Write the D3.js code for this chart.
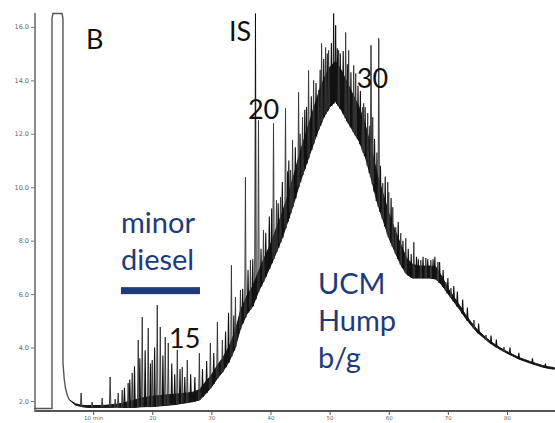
<!DOCTYPE html>
<html>
<head>
<meta charset="utf-8">
<script src="https://cdn.jsdelivr.net/npm/d3@7"></script>
<style>
  html, body { margin: 0; padding: 0; background: #fff; }
  svg { display: block; }
</style>
</head>
<body>
<svg id="chart" width="555" height="423"></svg>
<script>
// ---------------- DATA ----------------
const xTickValues = [10, 20, 30, 40, 50, 60, 70, 80];
const xTickLabels = ["10 min", "20", "30", "40", "50", "60", "70", "80"];
const yTickValues = [2, 4, 6, 8, 10, 12, 14, 16];
const yTickLabels = ["2.0", "4.0", "6.0", "8.0", "10.0", "12.0", "14.0", "16.0"];

// solvent peak (off-scale, clipped) and its tail
const solventTime   = [0, 3.04, 3.04, 3.2, 4.75, 4.9, 4.9, 5.1, 5.35, 5.7, 6.0];
const solventSignal = [1.72, 1.72, 16.3, 16.5, 16.5, 16.3, 3.42, 2.85, 2.45, 2.18, 2.04];

// trace: lower and upper edge of the dense signal band (UCM hump)
const traceTime = [6, 7, 8, 9, 10, 11, 12, 13, 14, 15, 16, 17, 18, 19, 20, 21, 22, 23, 24, 25,
  26, 27, 28, 29, 30, 31, 32, 33, 34, 35, 36, 37, 38, 39, 40, 41, 42, 43, 44, 45,
  46, 47, 48, 49, 50, 51, 52, 53, 54, 55, 56, 57, 58, 59, 60, 61, 62, 63, 64, 65,
  66, 67, 68, 69, 70, 71, 72, 73, 74, 75, 76, 77, 78, 79, 80, 81, 82, 83, 84, 85,
  86, 87, 88];
const traceLow = [2.04, 1.85, 1.79, 1.76, 1.76, 1.76, 1.76, 1.76, 1.77, 1.76, 1.76, 1.76, 1.78, 1.79, 1.79,
  1.81, 1.83, 1.85, 1.87, 1.91, 1.94, 1.98, 2.04, 2.26, 2.52, 2.84, 3.12, 3.48, 3.98, 4.77,
  5.25, 5.55, 6.11, 6.56, 7.05, 7.57, 8.11, 8.77, 9.44, 10.19, 10.82, 11.46, 12.09, 12.62, 12.99,
  13.21, 12.88, 12.47, 12.09, 11.72, 11.16, 10.37, 9.48, 8.80, 8.13, 7.61, 7.12, 6.75, 6.60, 6.60,
  6.60, 6.60, 6.56, 6.34, 6.02, 5.72, 5.42, 5.10, 4.82, 4.56, 4.38, 4.19, 4.04, 3.91, 3.79,
  3.68, 3.57, 3.49, 3.41, 3.34, 3.27, 3.22, 3.19];
const traceHigh = [2.04, 1.90, 1.84, 1.83, 1.83, 1.83, 1.84, 1.86, 1.88, 1.92, 1.98, 2.04, 2.10, 2.14, 2.18,
  2.20, 2.22, 2.24, 2.26, 2.28, 2.30, 2.34, 2.43, 2.71, 2.97, 3.33, 3.64, 4.04, 4.58, 5.44,
  5.93, 6.30, 6.86, 7.38, 7.87, 8.47, 9.05, 9.74, 10.49, 11.31, 12.02, 12.73, 13.44, 14.04, 14.49,
  14.71, 14.37, 13.89, 13.44, 12.99, 12.36, 11.50, 10.52, 9.78, 9.03, 8.43, 7.87, 7.35, 7.12, 7.05,
  7.05, 7.05, 7.01, 6.65, 6.22, 5.90, 5.57, 5.23, 4.93, 4.66, 4.46, 4.27, 4.11, 3.97, 3.85,
  3.74, 3.63, 3.55, 3.47, 3.40, 3.33, 3.28, 3.25];

// resolved peaks (apex)
const peakTime = [7.97, 9.83, 11.53, 12.88, 13.73, 14.24, 14.92, 15.93, 16.61, 17.63,
  18.31, 19.32, 20.0, 20.85, 21.36, 22.2, 22.71, 24.24, 25.08, 25.93,
  27.97, 29.83, 31.02, 31.86, 33.39, 34.07, 34.92, 35.76, 36.61, 37.46,
  37.97, 38.81, 40.51, 41.02, 41.69, 42.54, 43.39, 43.73, 44.75, 45.42,
  46.44, 47.29, 48.14, 48.64, 49.32, 49.83, 50.68, 51.02, 51.53, 52.71,
  53.22, 54.07, 54.41, 55.59, 55.76, 56.44, 57.0, 57.29, 58.31, 58.98,
  59.83, 60.0, 60.68, 61.19, 62.03, 62.88, 64.24, 65.42, 66.27, 67.12,
  68.31, 69.66, 70.51, 74.41, 76.44, 79.49];
const peakTop = [2.30, 1.96, 2.11, 2.90, 2.07, 2.30, 2.41, 2.67, 3.05, 4.28,
  5.14, 4.73, 3.53, 5.59, 4.77, 4.39, 4.17, 3.91, 3.27, 3.53,
  3.79, 4.17, 4.95, 4.28, 7.08, 5.89, 6.15, 10.37, 7.27, 16.5,
  12.50, 8.39, 12.39, 9.51, 9.63, 12.95, 10.64, 11.76, 13.55, 12.62,
  14.37, 14.0, 13.63, 15.38, 15.23, 15.12, 16.5, 16.06, 15.12, 15.79,
  15.12, 14.56, 14.26, 12.99, 13.14, 12.77, 15.31, 12.62, 15.57, 10.15,
  10.19, 9.81, 9.25, 8.50, 8.28, 8.09, 7.94, 7.27, 7.35, 7.27,
  7.20, 6.45, 6.22, 5.03, 4.47, 4.02];

// small unresolved peaks that roughen the band
const minorTime = [15.3, 16.2, 17.0, 17.9, 18.8, 19.7, 20.4, 21.8, 23.3, 23.8,
  24.7, 25.5, 26.5, 27.2, 28.5, 29.2, 30.4, 32.4, 32.9, 33.8,
  35.3, 36.2, 37.0, 38.4, 39.2, 39.8, 40.2, 41.3, 42.0, 42.9,
  43.1, 44.2, 45.0, 45.8, 46.1, 46.9, 47.7, 48.4, 49.0, 49.6,
  50.3, 51.3, 51.8, 52.3, 53.0, 53.6, 54.8, 55.2, 56.0, 56.8,
  57.6, 58.0, 58.6, 59.4, 60.4, 61.6, 62.4, 63.3, 63.8, 64.7,
  65.0, 65.8, 66.6, 67.5, 67.8, 68.6, 69.2, 70.0, 71.0, 71.6,
  72.5, 73.3, 75.2, 77.3, 78.2, 80.5, 82.0, 84.3, 86.5];
const minorTop = [2.5, 2.8, 3.3, 3.6, 3.9, 3.4, 4.0, 3.7, 3.4, 3.0,
  3.2, 2.9, 3.0, 2.9, 3.2, 3.5, 3.8, 4.6, 5.3, 5.2,
  6.2, 6.9, 7.3, 7.7, 8.3, 8.9, 9.2, 9.4, 10.2, 10.6,
  11.0, 11.5, 12.0, 12.9, 13.0, 13.4, 13.9, 14.4, 14.8, 15.0,
  15.4, 15.2, 15.0, 15.1, 14.6, 14.3, 13.8, 13.6, 13.0, 12.3,
  11.8, 11.3, 10.8, 10.4, 9.6, 8.7, 8.0, 7.7, 7.5, 7.4,
  7.3, 7.4, 7.3, 7.3, 7.4, 7.2, 6.9, 6.6, 6.3, 6.1,
  5.8, 5.5, 4.9, 4.45, 4.3, 4.0, 3.8, 3.6, 3.4];

// annotations
const blackLabels = [
  { text: "B",  t: 8.79,  v: 15.17 },
  { text: "IS", t: 32.97, v: 15.47 },
  { text: "20", t: 36.18, v: 12.55 },
  { text: "30", t: 54.6,  v: 13.71 },
  { text: "15", t: 22.83, v: 3.98 }
];
const blueLabels = [
  { text: "minor",  t: 14.71, v: 8.29 },
  { text: "diesel", t: 14.71, v: 6.90 },
  { text: "UCM",    t: 48.02, v: 6.00 },
  { text: "Hump",   t: 48.02, v: 4.62 },
  { text: "b/g",    t: 48.02, v: 3.23 }
];
const dieselBar = { t0: 14.71, t1: 28.07, v: 6.13 };

// ---------------- CHART ----------------
const svg = d3.select("#chart");
const x = d3.scaleLinear().domain([0, 88.12]).range([34, 555]);
const y = d3.scaleLinear().domain([1.626, 16.52]).range([411, 13]);
const blue = "#1F3A7A";

// Y axis
const yAxis = d3.axisLeft(y).tickValues(yTickValues)
  .tickFormat((d, i) => yTickLabels[i]).tickSize(4).tickPadding(2);
const gy = svg.append("g").attr("transform", "translate(35,0)").call(yAxis);
gy.select(".domain").remove();
gy.selectAll("line").attr("stroke", "#777");
gy.selectAll("text").attr("fill", "#666").style("font-family", "DejaVu Sans, sans-serif").style("font-size", "6.5px");
svg.append("line").attr("x1", 35).attr("x2", 35).attr("y1", 13).attr("y2", 412)
  .attr("stroke", "#8a8a8a").attr("stroke-width", 2);

// X axis
const xAxis = d3.axisBottom(x).tickValues(xTickValues)
  .tickFormat((d, i) => xTickLabels[i]).tickSize(4).tickPadding(1);
const gx = svg.append("g").attr("transform", "translate(0,411)").call(xAxis);
gx.select(".domain").remove();
gx.selectAll("line").attr("stroke", "#555");
gx.selectAll("text").attr("fill", "#666").style("font-family", "DejaVu Sans, sans-serif").style("font-size", "5.5px");
svg.append("line").attr("x1", 35).attr("x2", 555).attr("y1", 411).attr("y2", 411)
  .attr("stroke", "#555").attr("stroke-width", 2);

// solvent peak
const solvent = solventTime.map((t, i) => [t, solventSignal[i]]);
svg.append("path").datum(solvent)
  .attr("d", d3.line().x(d => x(d[0])).y(d => y(d[1])))
  .attr("fill", "none").attr("stroke", "#555").attr("stroke-width", 1.4);

// dense trace band
const band = traceTime.map((t, i) => ({ t, lo: traceLow[i], hi: traceHigh[i] }));
svg.append("path").datum(band)
  .attr("d", d3.area().x(d => x(d.t)).y0(d => y(d.lo)).y1(d => y(d.hi)))
  .attr("fill", "#151515").attr("stroke", "#151515").attr("stroke-width", 1);

const baseAt = d3.scaleLinear().domain(traceTime).range(traceLow).clamp(true);
const spike = d => {
  const b = baseAt(d.t);
  return d3.line()([[x(d.t - 0.12), y(b)], [x(d.t), y(d.top)], [x(d.t + 0.12), y(b)]]);
};

// unresolved small peaks
const minors = minorTime.map((t, i) => ({ t, top: minorTop[i] }));
svg.append("g").selectAll("path").data(minors).join("path")
  .attr("d", spike).attr("fill", "none").attr("stroke", "#111").attr("stroke-width", 1.1);

// resolved peaks
const peaks = peakTime.map((t, i) => ({ t, top: peakTop[i] }));
svg.append("g").selectAll("path").data(peaks).join("path")
  .attr("d", spike)
  .attr("fill", "none")
  .attr("stroke", d => d.top > 16 ? "#111" : "#3a3a3a")
  .attr("stroke-width", 1);

// labels
const fontFam = "Lato, 'Open Sans', sans-serif";
svg.append("g").selectAll("text").data(blackLabels).join("text")
  .attr("x", d => x(d.t)).attr("y", d => y(d.v))
  .text(d => d.text)
  .attr("fill", "#111").style("font-family", fontFam).style("font-size", "27px");

svg.append("g").selectAll("text").data(blueLabels).join("text")
  .attr("x", d => x(d.t)).attr("y", d => y(d.v))
  .text(d => d.text)
  .attr("fill", blue).style("font-family", fontFam).style("font-size", "29px");

svg.append("rect")
  .attr("x", x(dieselBar.t0)).attr("width", x(dieselBar.t1) - x(dieselBar.t0))
  .attr("y", y(dieselBar.v) - 3.5).attr("height", 7)
  .attr("fill", blue);
</script>
</body>
</html>
